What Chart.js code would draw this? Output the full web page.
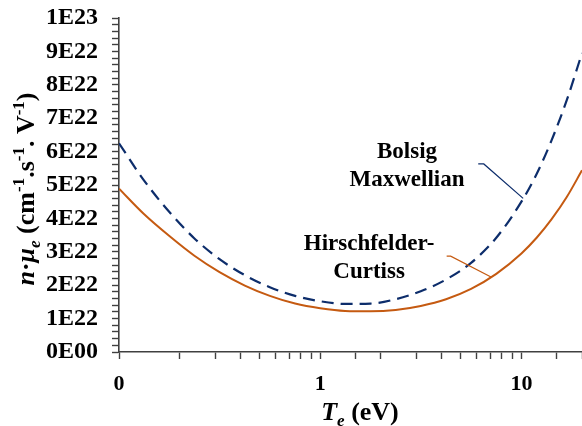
<!DOCTYPE html>
<html>
<head>
<meta charset="utf-8">
<script src="https://cdn.jsdelivr.net/npm/chart.js@4/dist/chart.umd.min.js"></script>
<style>
  html, body { margin: 0; padding: 0; background: #fff; }
  #wrap { width: 582px; height: 426px; position: relative; }
</style>
</head>
<body>
<div id="wrap"><canvas id="chart"></canvas></div>
<script>
// electron temperature (eV) and n*mu_e in units of 1E22
const energies = [0.1, 0.133, 0.178, 0.237, 0.316, 0.422, 0.562, 0.75, 1, 1.33, 1.78, 2.37, 3.16, 4.22, 5.62, 7.5, 10, 11.9, 14.1, 16.8, 20];
const bolsig = [6.25, 5.14, 4.19, 3.40, 2.78, 2.30, 1.94, 1.68, 1.52, 1.44, 1.45, 1.58, 1.82, 2.17, 2.67, 3.42, 4.5, 5.33, 6.33, 7.54, 8.95];
const hirsch = [4.89, 4.13, 3.47, 2.88, 2.39, 1.99, 1.68, 1.45, 1.31, 1.23, 1.22, 1.26, 1.38, 1.58, 1.89, 2.34, 2.95, 3.42, 3.97, 4.64, 5.44];
const xLabels = { 0.1: '0', 1: '1', 10: '10' };

const FONT = '"Liberation Serif", "Times New Roman", serif';
const BLUE = '#0d2d6b';
const ORANGE = '#c55a11';
const AXIS = '#404040';

const pts = (ys) => energies.map((x, i) => ({ x, y: ys[i] }));

function fontFor(p, size) {
  const s = p.sup || p.sub ? Math.round(size * 0.66) : size;
  return `${p.i ? 'italic ' : ''}bold ${s}px ${FONT}`;
}

function richText(ctx, parts, cx, baseY, size) {
  let w = 0;
  parts.forEach((p) => { ctx.font = fontFor(p, size); p.w = ctx.measureText(p.t).width; w += p.w; });
  let x = cx - w / 2;
  ctx.textAlign = 'left';
  ctx.textBaseline = 'alphabetic';
  parts.forEach((p) => {
    ctx.font = fontFor(p, size);
    const dy = p.sup ? -size * 0.4 : p.sub ? size * 0.22 : 0;
    ctx.fillText(p.t, x, baseY + dy);
    x += p.w;
  });
}

// callouts in data units: text centre, leader start, knee, end on curve
const callouts = [
  { lines: ['Bolsig', 'Maxwellian'], at: [2.7, 5.8], color: BLUE, leader: [[6.1, 5.63], [6.5, 5.63], [10.2, 4.6]] },
  { lines: ['Hirschfelder-', 'Curtiss'], at: [1.75, 3.05], color: ORANGE, leader: [[4.25, 2.87], [4.45, 2.87], [7.1, 2.24]] },
];

const decor = {
  id: 'decor',
  afterDraw(chart) {
    const { ctx, scales: { x, y } } = chart;
    ctx.save();
    ctx.fillStyle = '#000';
    callouts.forEach((c) => {
      ctx.font = `bold 23px ${FONT}`;
      ctx.textAlign = 'center';
      ctx.textBaseline = 'alphabetic';
      c.lines.forEach((t, i) => ctx.fillText(t, x.getPixelForValue(c.at[0]), y.getPixelForValue(c.at[1]) + i * 28));
      ctx.strokeStyle = c.color;
      ctx.lineWidth = 1.2;
      ctx.beginPath();
      c.leader.forEach(([lx, ly], i) => {
        const px = x.getPixelForValue(lx), py = y.getPixelForValue(ly);
        i ? ctx.lineTo(px, py) : ctx.moveTo(px, py);
      });
      ctx.stroke();
    });

    // axis titles
    ctx.fillStyle = '#000';
    richText(ctx, [{ t: 'T', i: true }, { t: 'e', i: true, sub: true }, { t: ' (eV)' }], 360, 420, 26);

    ctx.translate(34, 189);
    ctx.rotate(-Math.PI / 2);
    richText(ctx, [
      { t: 'n', i: true }, { t: '·' }, { t: 'μ', i: true }, { t: 'e', i: true, sub: true },
      { t: ' (cm' }, { t: '-1', sup: true }, { t: '.s' }, { t: '-1', sup: true },
      { t: '. V' }, { t: '-1', sup: true }, { t: ')' },
    ], 0, 0, 26);
    ctx.restore();
  },
};

new Chart(document.getElementById('chart'), {
  type: 'scatter',
  data: {
    datasets: [
      { label: 'Bolsig Maxwellian', data: pts(bolsig), borderColor: BLUE, borderWidth: 2.2, borderDash: [12, 7], showLine: true, pointRadius: 0, cubicInterpolationMode: 'monotone' },
      { label: 'Hirschfelder-Curtiss', data: pts(hirsch), borderColor: ORANGE, borderWidth: 2, showLine: true, pointRadius: 0, cubicInterpolationMode: 'monotone' },
    ],
  },
  options: {
    responsive: true,
    maintainAspectRatio: false,
    animation: false,
    layout: { padding: { top: 18, right: 0, left: 0, bottom: 0 } },
    plugins: { legend: { display: false }, tooltip: { enabled: false } },
    scales: {
      x: {
        type: 'logarithmic',
        min: 0.1,
        max: 20,
        afterFit: (s) => { s.height = 74; s.paddingLeft = 0; s.paddingRight = 0; },
        border: { display: true, color: AXIS, width: 1.6 },
        grid: { display: true, drawOnChartArea: false, drawTicks: true, tickLength: 7, color: AXIS, tickWidth: 1.4 },
        ticks: {
          autoSkip: false, maxRotation: 0, padding: 12, color: '#000',
          font: { family: FONT, size: 22, weight: 'bold' },
          callback: (v) => { const k = Number(v.toPrecision(3)); return xLabels[k] || ''; },
        },
      },
      y: {
        min: 0,
        max: 10,
        afterFit: (s) => { s.width = 119; s.paddingTop = 0; s.paddingBottom = 0; },
        border: { display: true, color: AXIS, width: 1.6 },
        grid: { display: true, drawOnChartArea: false, drawTicks: true, tickLength: 7, color: AXIS, tickWidth: 1.4 },
        ticks: {
          stepSize: 0.2, autoSkip: false, padding: 14, color: '#000',
          font: { family: FONT, size: 24, weight: 'bold' },
          callback: (v) => {
            const n = Math.round(v * 5);
            if (n % 5) return '';
            const k = n / 5;
            if (k === 0) return '0E00';
            if (k === 10) return '1E23';
            return `${k}E22`;
          },
        },
      },
    },
  },
  plugins: [decor],
});
</script>
</body>
</html>
